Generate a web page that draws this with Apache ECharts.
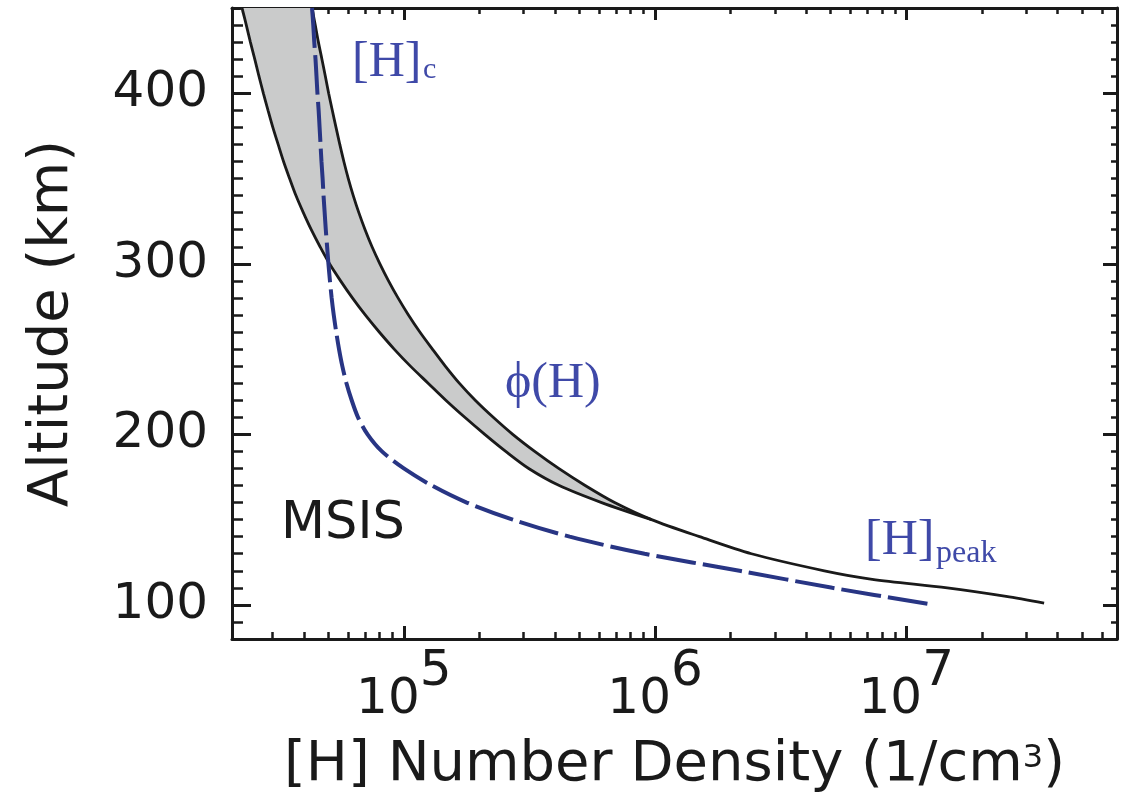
<!DOCTYPE html>
<html><head><meta charset="utf-8">
<script src="https://cdn.jsdelivr.net/npm/echarts@6/dist/echarts.min.js"></script>
<style>html,body{margin:0;padding:0;background:#fff}#c{width:1130px;height:802px}</style>
</head><body><div id="c"></div>
<script>
// ---- data (altitude in km, [H] density in 1/cm^3) ----
const upperAlt = [450, 440, 430, 420, 410, 400, 390, 380, 370, 360, 350, 340, 330, 320, 310, 300, 290, 280, 270, 260,
                  250, 240, 230, 220, 210, 200, 190, 180, 170, 160, 150, 140, 130, 120, 115, 110, 105, 101];
const upperDensity = [4.31e4, 4.44e4, 4.57e4, 4.72e4, 4.87e4, 5.02e4, 5.19e4, 5.37e4, 5.56e4, 5.77e4,
                      6.01e4, 6.29e4, 6.62e4, 7.01e4, 7.47e4, 8.03e4, 8.69e4, 9.48e4, 1.043e5, 1.158e5,
                      1.299e5, 1.462e5, 1.662e5, 1.924e5, 2.269e5, 2.713e5, 3.318e5, 4.133e5, 5.269e5, 6.902e5,
                      9.685e5, 1.503e6, 2.419e6, 4.720e6, 7.32e6, 1.456e7, 2.498e7, 3.538e7];
const lowerAlt = [450, 440, 430, 420, 410, 400, 390, 380, 370, 360, 350, 340, 330, 320, 310, 300, 290, 280, 270, 260,
                  250, 240, 230, 220, 210, 200, 190, 180, 170, 160, 150];
const lowerDensity = [2.27e4, 2.36e4, 2.45e4, 2.55e4, 2.65e4, 2.76e4, 2.88e4, 3.01e4, 3.16e4, 3.32e4,
                      3.51e4, 3.72e4, 3.98e4, 4.28e4, 4.64e4, 5.06e4, 5.60e4, 6.24e4, 7.02e4, 7.98e4,
                      9.15e4, 1.062e5, 1.249e5, 1.469e5, 1.748e5, 2.099e5, 2.544e5, 3.141e5, 4.156e5, 6.128e5,
                      9.685e5];
const dashedAlt = [450, 440, 430, 420, 410, 400, 390, 380, 370, 360, 350, 340, 330, 320, 310, 300, 290, 280, 270, 260,
                   250, 240, 230, 220, 210, 200, 190, 180, 170, 160, 150, 140, 130, 120, 110, 100.5];
const dashedDensity = [4.31e4, 4.36e4, 4.40e4, 4.45e4, 4.49e4, 4.53e4, 4.58e4, 4.62e4, 4.66e4, 4.70e4,
                       4.75e4, 4.79e4, 4.84e4, 4.89e4, 4.95e4, 5.01e4, 5.08e4, 5.16e4, 5.26e4, 5.38e4,
                       5.52e4, 5.69e4, 5.91e4, 6.20e4, 6.57e4, 7.17e4, 8.18e4, 1.00e5, 1.292e5, 1.780e5,
                       2.713e5, 4.572e5, 9.083e5, 2.168e6, 5.078e6, 1.234e7];
const bandTopAlt = 150; // band closes where the two bounds merge

// ---- axes / ticks ----
const X_MIN = 2.07e4, X_MAX = 6.9e7;
const Y_MIN = 80, Y_MAX = 450;
const xMajorTicks = [1e5, 1e6, 1e7];
const xMinorTicks = [3e4, 4e4, 5e4, 6e4, 7e4, 8e4, 9e4,
                     2e5, 3e5, 4e5, 5e5, 6e5, 7e5, 8e5, 9e5,
                     2e6, 3e6, 4e6, 5e6, 6e6, 7e6, 8e6, 9e6,
                     2e7, 3e7, 4e7, 5e7, 6e7];
const yMajorTicks = [100, 200, 300, 400];
const yMinorStep = 10;

const INK = '#1a1a1a';
const BLUE_TXT = '#3f49a8';
const BLUE_LINE = '#283584';
const SANS = 'DejaVu Sans';
const SERIF = 'Liberation Serif';
const SMOOTH = 0.3;

const pairs = (alts, dens) => alts.map((a, i) => [dens[i], a]);

const chart = echarts.init(document.getElementById('c'), null, {renderer: 'canvas'});

const xBase = {type: 'log', logBase: 10, min: X_MIN, max: X_MAX, gridIndex: 0,
  splitLine: {show: false}, minorTick: {show: false}, minorSplitLine: {show: false}};
const yBase = {type: 'value', min: Y_MIN, max: Y_MAX, gridIndex: 0,
  splitLine: {show: false}, minorTick: {show: false}, minorSplitLine: {show: false}};
const lineW = 3;

const option = {
  animation: false,
  backgroundColor: '#ffffff',
  grid: {left: 232, right: 13, top: 8, bottom: 163, containLabel: false},
  xAxis: [
    Object.assign({}, xBase, {
      position: 'bottom',
      axisLine: {show: true, onZero: false, lineStyle: {color: INK, width: lineW}},
      axisTick: {show: true, inside: true, length: 13, lineStyle: {color: INK, width: 3}, customValues: xMajorTicks},
      axisLabel: {show: true, customValues: xMajorTicks, margin: 8,
        formatter: v => '{b|10}{s|' + Math.round(Math.log10(v)) + '}',
        rich: {
          b: {fontFamily: SANS, fontSize: 50, color: INK, verticalAlign: 'bottom'},
          s: {fontFamily: SANS, fontSize: 50, color: INK, verticalAlign: 'bottom', padding: [0, 0, 28, 0]}
        }},
      name: '{a|[H] Number Density (1/cm}{s|3}{a|)}',
      nameLocation: 'middle', nameGap: 98,
      nameTextStyle: {rich: {
        a: {fontFamily: SANS, fontSize: 56, color: INK, verticalAlign: 'bottom'},
        s: {fontFamily: SANS, fontSize: 32, color: INK, verticalAlign: 'bottom', padding: [0, 0, 18, 0]}
      }}
    }),
    Object.assign({}, xBase, {
      position: 'bottom',
      axisLine: {show: false, onZero: false},
      axisTick: {show: true, inside: true, length: 7, lineStyle: {color: INK, width: 2.5}, customValues: xMinorTicks},
      axisLabel: {show: false}
    }),
    Object.assign({}, xBase, {
      position: 'top',
      axisLine: {show: true, onZero: false, lineStyle: {color: INK, width: lineW}},
      axisTick: {show: true, inside: true, length: 12, lineStyle: {color: INK, width: 3}, customValues: xMajorTicks},
      axisLabel: {show: false}
    }),
    Object.assign({}, xBase, {
      position: 'top',
      axisLine: {show: false, onZero: false},
      axisTick: {show: true, inside: true, length: 6, lineStyle: {color: INK, width: 2.5}, customValues: xMinorTicks},
      axisLabel: {show: false}
    })
  ],
  yAxis: [
    Object.assign({}, yBase, {
      position: 'left',
      axisLine: {show: true, onZero: false, lineStyle: {color: INK, width: lineW}},
      axisTick: {show: true, inside: true, length: 19, lineStyle: {color: INK, width: 3}, customValues: yMajorTicks},
      axisLabel: {show: true, customValues: yMajorTicks, margin: 24, fontFamily: SANS, fontSize: 50, color: INK},
      name: 'Altitude (km)', nameLocation: 'middle', nameGap: 152,
      nameTextStyle: {fontFamily: SANS, fontSize: 56, color: INK}
    }),
    Object.assign({}, yBase, {
      position: 'left', interval: yMinorStep,
      axisLine: {show: false, onZero: false},
      axisTick: {show: true, inside: true, length: 11, lineStyle: {color: INK, width: 2.5}},
      axisLabel: {show: false}
    }),
    Object.assign({}, yBase, {
      position: 'right',
      axisLine: {show: true, onZero: false, lineStyle: {color: INK, width: lineW}},
      axisTick: {show: true, inside: true, length: 14, lineStyle: {color: INK, width: 3}, customValues: yMajorTicks},
      axisLabel: {show: false}
    }),
    Object.assign({}, yBase, {
      position: 'right', interval: yMinorStep,
      axisLine: {show: false, onZero: false},
      axisTick: {show: true, inside: true, length: 6, lineStyle: {color: INK, width: 2.5}},
      axisLabel: {show: false}
    })
  ],
  series: [
    {
      name: 'φ(H) range',
      type: 'custom',
      xAxisIndex: 0, yAxisIndex: 0,
      clip: true, z: 1,
      data: [[lowerDensity[0], lowerAlt[0]]],
      renderItem: function (params, api) {
        const pts = [];
        for (let i = 0; i < lowerAlt.length; i++) pts.push(api.coord([lowerDensity[i], lowerAlt[i]]));
        for (let i = upperAlt.length - 1; i >= 0; i--) {
          if (upperAlt[i] >= bandTopAlt) pts.push(api.coord([upperDensity[i], upperAlt[i]]));
        }
        return {type: 'polygon', shape: {points: pts, smooth: 0.3}, style: {fill: '#cacbcb', stroke: null}};
      }
    },
    {
      name: 'upper', type: 'line', xAxisIndex: 0, yAxisIndex: 0, z: 3,
      data: pairs(upperAlt, upperDensity), showSymbol: false, symbol: 'none', smooth: SMOOTH,
      lineStyle: {color: INK, width: 2.8}
    },
    {
      name: 'lower', type: 'line', xAxisIndex: 0, yAxisIndex: 0, z: 3,
      data: pairs(lowerAlt, lowerDensity), showSymbol: false, symbol: 'none', smooth: SMOOTH,
      lineStyle: {color: INK, width: 2.8}
    },
    {
      name: '[H]c', type: 'line', xAxisIndex: 0, yAxisIndex: 0, z: 4,
      data: pairs(dashedAlt, dashedDensity), showSymbol: false, symbol: 'none', smooth: SMOOTH,
      lineStyle: {color: BLUE_LINE, width: 4, type: [40, 7], cap: 'butt'}
    }
  ],
  graphic: [
    {type: 'text', x: 352, y: 88, z: 10, style: {text: '[H]', fontFamily: SERIF, fontSize: 50, fill: BLUE_TXT, verticalAlign: 'bottom'}},
    {type: 'text', x: 423, y: 85, z: 10, style: {text: 'c', fontFamily: SERIF, fontSize: 30, fill: BLUE_TXT, verticalAlign: 'bottom'}},
    {type: 'text', x: 505, y: 409, z: 10, style: {text: 'ϕ(H)', fontFamily: SERIF, fontSize: 50, fill: BLUE_TXT, verticalAlign: 'bottom'}},
    {type: 'text', x: 865, y: 566, z: 10, style: {text: '[H]', fontFamily: SERIF, fontSize: 50, fill: BLUE_TXT, verticalAlign: 'bottom'}},
    {type: 'text', x: 936, y: 570, z: 10, style: {text: 'peak', fontFamily: SERIF, fontSize: 32, fill: BLUE_TXT, verticalAlign: 'bottom'}},
    {type: 'text', x: 281, y: 550, z: 10, style: {text: 'MSIS', fontFamily: SANS, fontSize: 51, fill: INK, verticalAlign: 'bottom'}}
  ]
};
chart.setOption(option);
</script>
</body></html>
